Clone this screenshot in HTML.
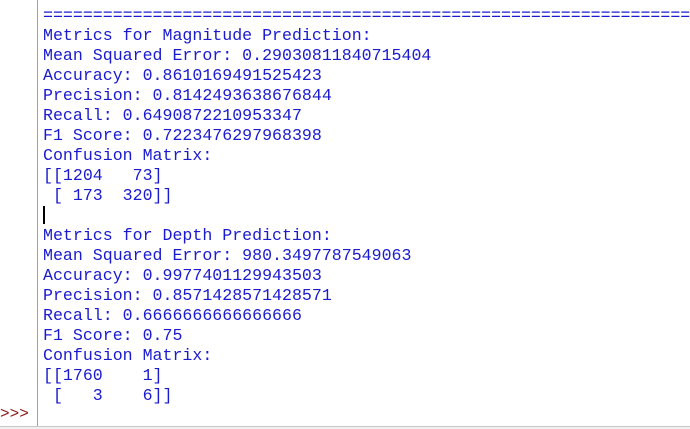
<!DOCTYPE html>
<html><head><meta charset="utf-8"><style>
html,body{margin:0;padding:0;background:#fff;width:690px;height:429px;overflow:hidden;position:relative}
#gutter{position:absolute;left:0;top:0;width:37px;height:426px;background:#fff;border-right:1px solid #a0a0a0}
#bottom{position:absolute;left:0;top:426px;width:690px;height:3px;background:#f0f0f0;border-top:1px solid #c8c8c8}
#out{position:absolute;left:43px;top:6px;margin:0;font-family:"Liberation Mono",monospace;font-size:16.6px;line-height:20px;color:#1a1ad0;white-space:pre}
#prompt{position:absolute;left:0px;top:404px;font-family:"Liberation Mono",monospace;font-size:16px;line-height:20px;color:#8b1a1a}
#cursor{position:absolute;left:43px;top:206px;width:2px;height:18px;background:#000}
</style></head><body>
<div id="gutter"></div>
<pre id="out">====================================================================
Metrics for Magnitude Prediction:
Mean Squared Error: 0.29030811840715404
Accuracy: 0.8610169491525423
Precision: 0.8142493638676844
Recall: 0.6490872210953347
F1 Score: 0.7223476297968398
Confusion Matrix:
[[1204   73]
 [ 173  320]]

Metrics for Depth Prediction:
Mean Squared Error: 980.3497787549063
Accuracy: 0.9977401129943503
Precision: 0.8571428571428571
Recall: 0.6666666666666666
F1 Score: 0.75
Confusion Matrix:
[[1760    1]
 [   3    6]]</pre>
<div id="cursor"></div>
<div id="prompt">&gt;&gt;&gt;</div>
<div id="bottom"></div>
</body></html>
